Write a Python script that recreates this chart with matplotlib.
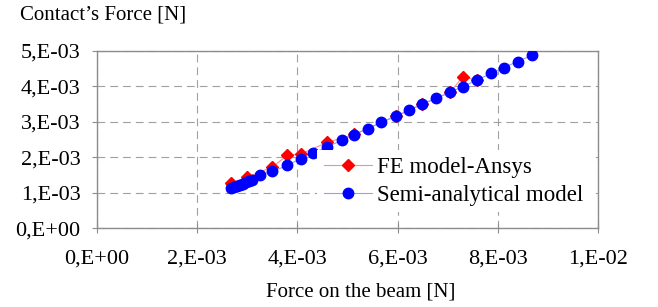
import matplotlib
matplotlib.use("Agg")
import matplotlib.pyplot as plt

plt.rcParams['font.family'] = ['Liberation Serif', 'DejaVu Serif']

# semi-analytical model (blue circles)
semi_x = [2.686e-3, 2.746e-3, 2.806e-3, 2.866e-3, 2.926e-3, 2.986e-3, 3.046e-3, 3.106e-3,
          3.252e-3, 3.500e-3, 3.800e-3, 4.066e-3, 4.320e-3, 4.586e-3, 4.886e-3, 5.132e-3,
          5.420e-3, 5.666e-3, 5.966e-3, 6.232e-3, 6.486e-3, 6.766e-3, 7.052e-3, 7.300e-3,
          7.586e-3, 7.866e-3, 8.120e-3, 8.400e-3, 8.686e-3]
semi_y = [1.125e-3, 1.156e-3, 1.190e-3, 1.218e-3, 1.252e-3, 1.289e-3, 1.323e-3, 1.360e-3,
          1.501e-3, 1.595e-3, 1.765e-3, 1.955e-3, 2.116e-3, 2.280e-3, 2.473e-3, 2.635e-3,
          2.805e-3, 2.983e-3, 3.153e-3, 3.323e-3, 3.493e-3, 3.654e-3, 3.833e-3, 3.986e-3,
          4.173e-3, 4.363e-3, 4.524e-3, 4.694e-3, 4.873e-3]

# FE model - Ansys (red diamonds)
fe_x = [2.670e-3, 3.000e-3, 3.500e-3, 3.800e-3, 4.066e-3, 4.600e-3, 5.130e-3,
        5.966e-3, 6.486e-3, 7.052e-3, 7.300e-3, 7.586e-3]
fe_y = [1.266e-3, 1.436e-3, 1.720e-3, 2.048e-3, 2.088e-3, 2.416e-3, 2.640e-3,
        3.150e-3, 3.490e-3, 3.830e-3, 4.263e-3, 4.173e-3]

xticks = [0, 2e-3, 4e-3, 6e-3, 8e-3, 1e-2]
xtick_labels = ['0,E+00', '2,E-03', '4,E-03', '6,E-03', '8,E-03', '1,E-02']
yticks = [0, 1e-3, 2e-3, 3e-3, 4e-3, 5e-3]
ytick_labels = ['0,E+00', '1,E-03', '2,E-03', '3,E-03', '4,E-03', '5,E-03']

fig = plt.figure(figsize=(6.58, 3.07), dpi=100)
ax = fig.add_axes([0.147, 0.257, 0.762, 0.578])

ax.plot(fe_x, fe_y, color='#ff8c8c', lw=0.8, marker='D', markersize=6,
        markerfacecolor='#ff0000', markeredgecolor='#ff0000', label='FE model-Ansys', zorder=3)
ax.plot(semi_x, semi_y, color='#9a9aff', lw=0.8, marker='o', markersize=7.5,
        markerfacecolor='#0000ff', markeredgecolor='#0000ff', label='Semi-analytical model', zorder=4)

ax.set_xlim(0, 1e-2)
ax.set_ylim(0, 5e-3)
ax.set_xticks(xticks)
ax.set_xticklabels(xtick_labels)
ax.set_yticks(yticks)
ax.set_yticklabels(ytick_labels)

ax.grid(True, color='#a0a0a0', lw=0.8, linestyle=(0, (7, 4.5)))
for s in ax.spines.values():
    s.set_color('#8c8c8c')
    s.set_linewidth(1.0)

ax.tick_params(axis='y', direction='out', length=3.6, color='#8c8c8c', pad=8, labelsize=16)
ax.tick_params(axis='x', direction='inout', length=7, color='#8c8c8c', pad=12, labelsize=16)

leg = ax.legend(loc='center left', bbox_to_anchor=(0.44, 0.265), borderaxespad=0,
                borderpad=0.3, labelspacing=0.3, handlelength=2.1, handletextpad=0.22,
                fontsize=16.5, frameon=True, fancybox=False)
leg.get_frame().set_edgecolor('none')
leg.get_frame().set_facecolor('white')
leg.get_frame().set_alpha(1)

fig.text(0.03, 1 - 15 / 307, 'Contact\u2019s Force [N]', ha='left', va='center', fontsize=15)
fig.text(361 / 658, 1 - 292 / 307, 'Force on the beam [N]', ha='center', va='center', fontsize=15)

fig.savefig('out.png', dpi=100)
